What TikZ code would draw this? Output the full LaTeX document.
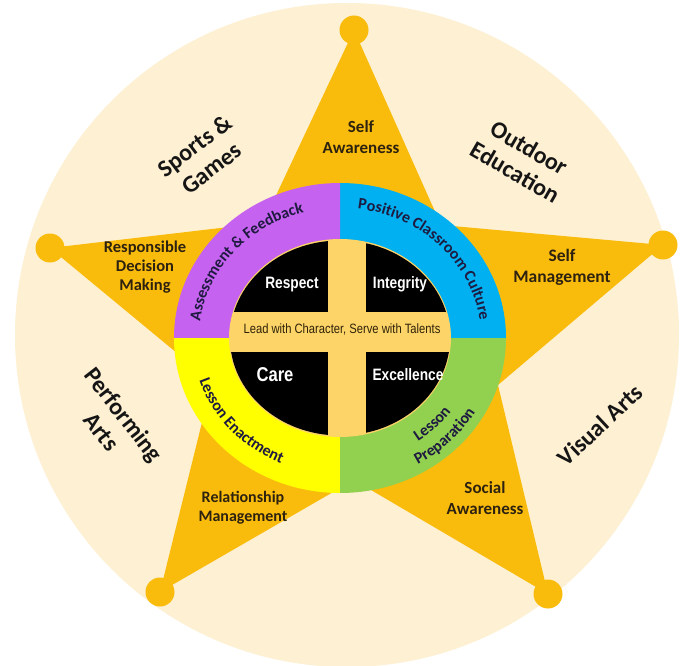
\documentclass[tikz,border=0pt]{standalone}
\usepackage{fontspec}
\setmainfont{Carlito}
\newfontfamily\narrowfont[FakeStretch=0.83]{Liberation Sans}
\usetikzlibrary{decorations.text}

\definecolor{bgcream}{HTML}{FEF0D2}
\definecolor{stargold}{HTML}{FABC0C}
\definecolor{ringpurple}{HTML}{C662F0}
\definecolor{ringblue}{HTML}{00B0F0}
\definecolor{ringyellow}{HTML}{FFFF00}
\definecolor{ringgreen}{HTML}{92D050}
\definecolor{crossgold}{HTML}{FDD468}
\definecolor{labelink}{HTML}{2D2210}
\definecolor{catink}{HTML}{151515}
\definecolor{ringink}{HTML}{1E1A40}
\definecolor{mottoink}{HTML}{2E2208}

\newcommand{\ringfmt}{\bfseries\fontsize{16}{16}\selectfont}

\tikzset{
  starlabel/.style={font={\bfseries\fontsize{17}{21}\selectfont}, text=labelink, align=center, inner sep=0pt},
  catlabel/.style={font={\bfseries\fontsize{24}{28}\selectfont}, text=catink, align=center, inner sep=0pt},
  valuelabel/.style={font={\narrowfont\bfseries\fontsize{16.5}{18}\selectfont}, text=white, inner sep=0pt},
  ringlabel/.style={decorate, decoration={text along path, text align=center, text color=ringink, text={#1}}},
}

\begin{document}
\begin{tikzpicture}[x=1pt,y=1pt]
  % canvas
  \useasboundingbox (0,0) rectangle (686,-666);
  \fill[white] (0,0) rectangle (686,-666);

  % outer cream disc
  \coordinate (O) at (347,-335);
  \fill[bgcream] (O) circle[radius=332pt];

  % five-pointed star: tips and inner corners
  \coordinate (tipT)  at (354,-30);
  \coordinate (inTR)  at (441,-225);
  \coordinate (tipR)  at (663,-245);
  \coordinate (inR)   at (498,-385);
  \coordinate (tipLR) at (548,-594);
  \coordinate (inB)   at (354,-480);
  \coordinate (tipLL) at (160,-592);
  \coordinate (inL)   at (212,-382);
  \coordinate (tipL)  at (50,-248);
  \coordinate (inTL)  at (263,-223);
  \fill[stargold] (tipT) -- (inTR) -- (tipR) -- (inR) -- (tipLR) -- (inB)
    -- (tipLL) -- (inL) -- (tipL) -- (inTL) -- cycle;
  \foreach \t in {tipT,tipR,tipLR,tipLL,tipL}
    \fill[stargold] (\t) circle[radius=14.5pt];

  % coloured ring, four quarters
  \coordinate (C) at (340,-338);
  \fill[ringblue, shift={(C)}] (0,0) -- (0:166pt and 155pt)
    arc[start angle=0, end angle=90, x radius=166pt, y radius=155pt] -- cycle;
  \fill[ringpurple, shift={(C)}] (0,0) -- (90:166pt and 155pt)
    arc[start angle=90, end angle=180, x radius=166pt, y radius=155pt] -- cycle;
  \fill[ringyellow, shift={(C)}] (0,0) -- (180:166pt and 155pt)
    arc[start angle=180, end angle=270, x radius=166pt, y radius=155pt] -- cycle;
  \fill[ringgreen, shift={(C)}] (0,0) -- (270:166pt and 155pt)
    arc[start angle=270, end angle=360, x radius=166pt, y radius=155pt] -- cycle;

  % inner disc with the cross
  \fill[crossgold] (C) ellipse[x radius=111pt, y radius=99pt];
  \begin{scope}
    \clip (C) ellipse[x radius=110pt, y radius=97.5pt];
    \fill[black] (220,-230) rectangle (328,-312);
    \fill[black] (366,-230) rectangle (465,-312);
    \fill[black] (220,-352) rectangle (328,-450);
    \fill[black] (366,-352) rectangle (465,-450);
  \end{scope}

  % values
  \node[valuelabel] (respect)    at (292,-285) {Respect};
  \node[valuelabel] (integrity)  at (400,-284) {Integrity};
  \node[valuelabel, font={\narrowfont\bfseries\fontsize{20}{22}\selectfont}] (care) at (275,-375) {Care};
  \node[valuelabel] (excellence) at (408,-375) {Excellence};
  \node[font={\narrowfont\fontsize{13.5}{15}\selectfont}, text=mottoink, inner sep=0pt] (motto)
    at (342,-329) {Lead with Character, Serve with Talents};

  % ring captions
  \path[shift={(C)}, ringlabel={|\ringfmt|Assessment {\&} Feedback}]
    (179:141pt and 130pt) arc[start angle=179, end angle=99, x radius=141pt, y radius=130pt];
  \path[shift={(C)}, ringlabel={|\ringfmt|Positive Classroom Culture}]
    (89:141pt and 130pt) arc[start angle=89, end angle=1, x radius=141pt, y radius=130pt];
  \path[shift={(C)}, ringlabel={|\ringfmt|Lesson Enactment}]
    (189:148pt and 137pt) arc[start angle=189, end angle=255, x radius=148pt, y radius=137pt];
  \path[shift={(C)}, ringlabel={|\ringfmt|Lesson}]
    (-75:137pt and 126pt) arc[start angle=-75, end angle=-15, x radius=137pt, y radius=126pt];
  \path[shift={(C)}, ringlabel={|\ringfmt|Preparation}]
    (-75:157pt and 146pt) arc[start angle=-75, end angle=-15, x radius=157pt, y radius=146pt];

  % star point captions
  \node[starlabel] (selfaw)  at (361,-137.5) {Self\\Awareness};
  \node[starlabel, font={\bfseries\fontsize{16.5}{19}\selectfont}] (respdec) at (145,-267) {Responsible\\Decision\\Making};
  \node[starlabel, font={\bfseries\fontsize{17.5}{21}\selectfont}] (selfmgt) at (562,-267.5) {Self\\Management};
  \node[starlabel, font={\bfseries\fontsize{16}{19}\selectfont}] (relmgt) at (243,-507.5) {Relationship\\Management};
  \node[starlabel] (socaw)   at (485,-498.5) {Social\\Awareness};

  % programme areas
  \node[catlabel, rotate=37]  (sports)  at (203,-157) {Sports \&\\Games};
  \node[catlabel, rotate=-30] (outdoor) at (522,-160) {Outdoor\\Education};
  \node[catlabel, rotate=-52] (perform) at (113,-423) {Performing\\Arts};
  \node[catlabel, rotate=43]  (visual)  at (600,-425) {Visual Arts};
\end{tikzpicture}
\end{document}
